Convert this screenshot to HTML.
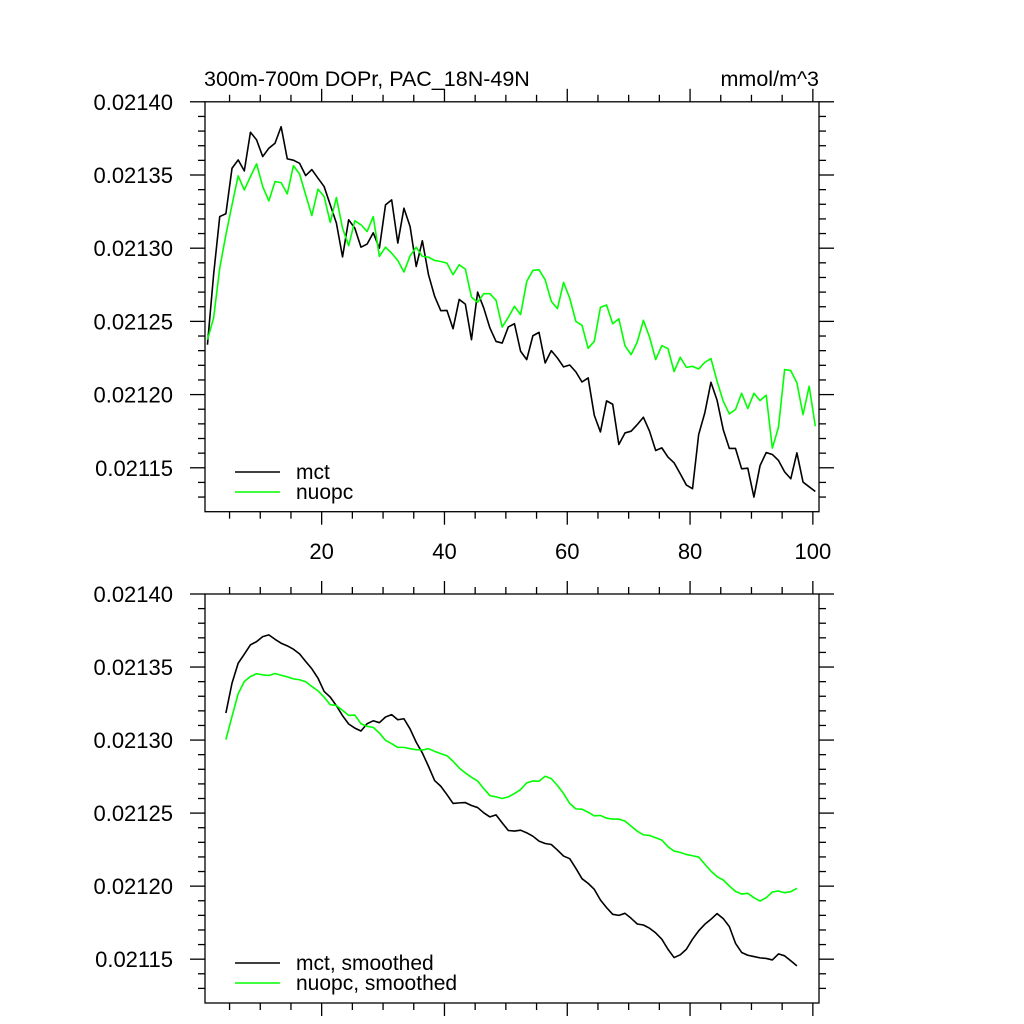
<!DOCTYPE html>
<html><head><meta charset="utf-8"><style>
html,body{margin:0;padding:0;background:#fff;}
svg{display:block;font-family:"Liberation Sans",sans-serif;}
</style></head><body>
<svg id="chart" width="1024" height="1024" viewBox="0 0 1024 1024" xmlns="http://www.w3.org/2000/svg">
<rect width="1024" height="1024" fill="#fff"/>
<text x="204" y="86" font-size="21.5">300m-700m DOPr, PAC_18N-49N</text>
<text x="819" y="86" font-size="21.5" text-anchor="end">mmol/m^3</text>
<g id="p1"></g>
<g id="p2"></g>
</svg>
<script>
// values in units of 1e-5 mmol/m^3 above 0.021 (i.e. 0.021 + v*1e-5)
const years = Array.from({length:100},(_,i)=>i+1);
const mct = [23.41,28.19,32.16,32.35,35.46,36.03,35.28,37.92,37.40,36.26,36.83,37.17,38.30,36.10,36.01,35.80,34.96,35.37,34.78,34.21,32.96,31.71,29.41,31.94,31.37,30.07,30.28,31.05,30.00,32.96,33.30,30.35,32.73,31.48,28.75,30.51,28.19,26.71,25.73,25.75,24.50,26.50,26.18,23.75,27.00,25.91,24.55,23.63,23.52,24.62,24.84,22.96,22.39,24.02,24.25,22.16,23.00,22.50,21.89,22.02,21.55,20.86,21.14,18.59,17.45,19.57,19.34,16.59,17.38,17.50,17.95,18.45,17.50,16.18,16.36,15.73,15.34,14.59,13.82,13.57,17.27,18.75,20.84,19.61,17.61,16.32,16.32,14.93,14.97,13.00,15.15,16.04,15.91,15.50,14.72,14.25,16.02,14.02,13.70,13.38];
const nuopc = [23.75,25.23,28.64,30.91,32.96,34.94,33.98,34.89,35.76,34.21,33.23,34.55,34.48,33.71,35.64,35.07,33.64,32.23,34.03,33.53,31.76,33.46,31.37,30.17,31.87,31.60,31.14,32.16,29.44,30.07,29.66,29.16,28.37,29.48,30.07,29.44,29.39,29.16,29.09,28.98,28.19,28.87,28.57,26.66,26.30,26.89,26.89,26.44,24.61,25.28,26.03,25.46,27.73,28.48,28.53,27.84,26.37,25.87,27.66,26.59,25.00,24.73,23.16,23.64,25.96,26.12,24.84,25.18,23.34,22.73,23.59,25.07,23.93,22.39,23.34,23.14,21.57,22.55,21.86,21.93,21.75,22.20,22.46,20.91,19.55,18.68,18.98,20.09,19.04,20.09,19.59,19.96,16.34,17.77,21.71,21.64,20.80,18.63,20.57,17.84];
const smoothStart = 4;
const mctSmooth = [31.85,33.90,35.26,35.88,36.52,36.74,37.08,37.20,36.90,36.63,36.45,36.22,35.90,35.38,34.88,34.24,33.33,32.94,32.35,31.67,31.10,30.82,30.62,31.12,31.32,31.19,31.58,31.74,31.39,31.46,30.76,29.85,29.12,28.20,27.23,26.84,26.27,25.66,25.70,25.72,25.52,25.38,25.02,24.74,24.88,24.33,23.81,23.77,23.83,23.65,23.42,23.08,22.92,22.85,22.47,22.06,21.88,21.22,20.51,20.19,19.78,19.05,18.53,18.07,18.00,18.14,17.80,17.41,17.34,17.12,16.80,16.37,15.68,15.11,15.30,15.68,16.37,16.94,17.39,17.73,18.12,17.78,17.23,16.09,15.46,15.27,15.18,15.09,15.05,14.95,15.36,15.23,14.89,14.54];
const nuopcSmooth = [30.03,31.62,33.17,34.01,34.35,34.54,34.47,34.42,34.56,34.44,34.33,34.19,34.13,33.99,33.67,33.37,32.94,32.42,32.37,32.03,31.69,31.71,31.12,30.94,30.87,30.48,29.98,29.75,29.50,29.50,29.41,29.34,29.32,29.41,29.23,29.07,28.93,28.55,28.09,27.75,27.45,27.20,26.68,26.20,26.11,26.00,26.11,26.34,26.61,27.07,27.20,27.18,27.52,27.36,26.89,26.34,25.66,25.29,25.27,25.06,24.81,24.84,24.65,24.59,24.59,24.45,24.11,23.76,23.51,23.47,23.31,23.15,22.70,22.40,22.31,22.17,22.08,21.99,21.51,21.03,20.65,20.42,20.01,19.64,19.46,19.51,19.21,18.98,19.21,19.60,19.67,19.55,19.62,19.85];
const yTickValues = [15,20,25,30,35,40];
const yTickLabels = ["0.02115","0.02120","0.02125","0.02130","0.02135","0.02140"];
const xTickValues = [20,40,60,80,100];
const xTickLabels = ["20","40","60","80","100"];
const legendTop = ["mct","nuopc"];
const legendBottom = ["mct, smoothed","nuopc, smoothed"];

const NS="http://www.w3.org/2000/svg";
const XMIN=1, XMAX=101, YMIN=12, YMAX=40, L=205, R=819;
function xs(x){return L+(x-XMIN)/(XMAX-XMIN)*(R-L);}
function mk(tag,attrs,parent){const e=document.createElementNS(NS,tag);for(const k in attrs)e.setAttribute(k,attrs[k]);parent.appendChild(e);return e;}

function panel(g,T,B,series,names,showXLabels,legY){
  const ys=v=>B-(v-YMIN)/(YMAX-YMIN)*(B-T);
  const ax=mk('g',{stroke:'#000','stroke-width':1.3,fill:'none'},g);
  
  
  const fr=mk('rect',{x:L,y:T,width:R-L,height:B-T},ax);
  
  
  for(let v=5;v<=100;v+=5){
    const maj=v%20===0, len=maj?13:7, x=xs(v);
    const t1=mk('line',{x1:x,x2:x,y1:B,y2:B+len},ax);
    
    
    const t2=mk('line',{x1:x,x2:x,y1:T,y2:T-len},ax);
    
    
  }
  for(let v=13;v<=40;v+=1){
    const maj=v%5===0, len=maj?15:7, y=ys(v);
    const t1=mk('line',{x1:L,x2:L-len,y1:y,y2:y},ax);
    
    
    const t2=mk('line',{x1:R,x2:R+len,y1:y,y2:y},ax);
    
    
  }
  yTickValues.forEach((v,i)=>{
    const t=mk('text',{x:173,y:ys(v)+8,'font-size':22,'text-anchor':'end'},g);
    t.textContent=yTickLabels[i];
    
    
  });
  if(showXLabels){
    xTickValues.forEach((v,i)=>{
      const t=mk('text',{x:xs(v),y:559,'font-size':22,'text-anchor':'middle'},g);
      t.textContent=xTickLabels[i];
      
      
    });
  }
  series.forEach(s=>{
    const pts=s.vals.map((v,i)=>xs(s.start+i+0.4).toFixed(2)+','+ys(v).toFixed(2)).join(' ');
    const p=mk('polyline',{points:pts,fill:'none',stroke:s.color,'stroke-width':1.6,'stroke-linejoin':'round'},g);
    
    
  });
  names.forEach((n,i)=>{
    const y=legY+i*20;
    const l=mk('line',{x1:235,x2:280,y1:y,y2:y,stroke:series[i].color,'stroke-width':1.6},g);
    
    
    const t=mk('text',{x:296,y:y+7,'font-size':21},g);
    t.textContent=n;
    
    
  });
}
panel(document.getElementById('p1'),101.8,511.7,
  [{vals:mct,start:1,color:'#000',name:'mct-line'},{vals:nuopc,start:1,color:'#00ff00',name:'nuopc-line'}],
  legendTop,true,472);
panel(document.getElementById('p2'),594,1003,
  [{vals:mctSmooth,start:smoothStart,color:'#000',name:'mct-smoothed-line'},{vals:nuopcSmooth,start:smoothStart,color:'#00ff00',name:'nuopc-smoothed-line'}],
  legendBottom,false,963);
</script>
</body></html>
